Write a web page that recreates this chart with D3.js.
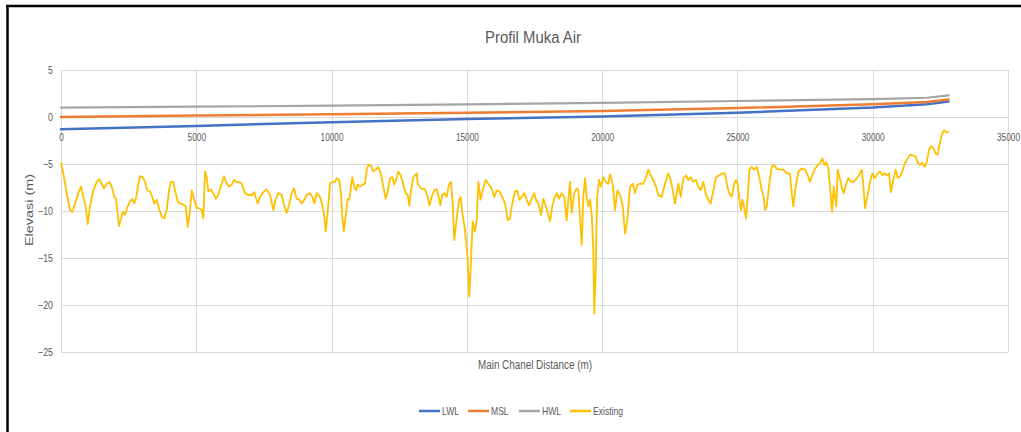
<!DOCTYPE html>
<html>
<head>
<meta charset="utf-8">
<script src="https://cdn.jsdelivr.net/npm/d3@7"></script>
<style>
  html, body { margin: 0; padding: 0; background: #fff; }
  svg { display: block; }
  text { font-family: "Liberation Sans", Arial, sans-serif; fill: #595959; }
</style>
</head>
<body>
<svg id="chart" width="1021" height="432"></svg>
<script>
// Water level references along the main channel (station in m, elevation in m)
const levelStations = [0, 5000, 10000, 15000, 20000, 25000, 30000, 32000, 32800];
const lwl = [-1.3, -0.95, -0.55, -0.2, 0.05, 0.45, 1.0, 1.35, 1.65];
const msl = [0.0, 0.15, 0.3, 0.45, 0.65, 0.95, 1.35, 1.6, 1.85];
const hwl = [1.0, 1.1, 1.2, 1.35, 1.5, 1.7, 1.9, 2.05, 2.3];

// Existing bed profile: [distance (m), elevation (m)]
const existing = [
  [0,-4.9],[85,-6.0],[211,-8.1],[333,-9.9],[418,-10.1],[517,-9.2],[639,-8.1],[739,-7.4],[824,-8.5],[913,-9.5],
  [987,-11.4],[1072,-9.5],[1194,-7.8],[1319,-6.9],[1416,-6.6],[1504,-7.1],[1589,-7.6],[1689,-7.1],[1785,-6.9],[1874,-7.4],
  [1970,-8.5],[2033,-8.7],[2070,-9.7],[2144,-11.6],[2218,-10.8],[2280,-10.1],[2365,-10.4],[2465,-9.5],[2550,-9.0],[2635,-8.7],
  [2709,-9.2],[2783,-8.5],[2857,-7.1],[2920,-6.3],[3020,-6.4],[3105,-6.9],[3190,-7.8],[3289,-7.9],[3374,-8.5],[3448,-9.2],
  [3537,-8.8],[3622,-9.7],[3722,-10.6],[3818,-10.8],[3907,-9.9],[3992,-7.8],[4066,-6.9],[4150,-6.9],[4239,-8.1],[4313,-9.0],
  [4398,-9.2],[4520,-9.3],[4609,-9.5],[4683,-11.7],[4757,-10.2],[4831,-7.8],[4927,-8.8],[5015,-9.7],[5100,-9.7],[5200,-9.9],
  [5259,-10.8],[5322,-5.8],[5385,-6.4],[5444,-7.9],[5533,-7.7],[5629,-8.1],[5729,-8.7],[5814,-8.3],[5939,-7.1],[6024,-6.3],
  [6124,-7.1],[6209,-7.4],[6309,-7.2],[6405,-6.7],[6494,-6.9],
  [6553,-6.9],[6679,-7.1],[6801,-8.1],[6923,-8.3],[7048,-8.3],[7144,-8.0],[7270,-9.2],[7355,-8.5],[7477,-8.0],[7603,-7.7],
  [7725,-8.3],[7847,-9.9],[7935,-8.8],[8031,-8.1],[8157,-8.3],[8242,-9.4],[8342,-10.2],[8427,-9.4],[8527,-8.1],[8612,-7.6],
  [8711,-8.7],[8807,-8.8],[8896,-9.2],[8992,-8.8],[9081,-8.3],[9203,-8.1],[9288,-8.5],[9362,-9.2],[9451,-8.1],[9573,-8.5],
  [9658,-9.4],[9732,-10.6],[9783,-12.2],[9857,-10.1],[9942,-7.1],[10027,-6.9],[10127,-6.9],[10190,-6.5],[10275,-6.7],[10349,-8.1],
  [10397,-10.6],[10449,-12.2],[10523,-10.6],[10596,-8.7],[10656,-8.8],[10718,-7.4],[10766,-6.4],[10840,-7.4],[10903,-7.8],[10966,-7.2],
  [11051,-7.4],[11151,-7.2],[11236,-7.1],[11298,-5.6],[11358,-5.1],[11458,-5.2],[11543,-5.8],[11631,-5.6],[11727,-5.3],[11816,-6.0],
  [11912,-7.4],[12001,-8.7],[12075,-7.9],[12160,-6.5],[12245,-6.4],[12319,-7.2],[12382,-6.7],[12466,-5.8],[12555,-6.2],[12651,-7.2],
  [12740,-8.1],[12814,-8.3],[12873,-9.4],[12936,-7.8],[13021,-6.4],[13147,-6.0],
  [13184,-7.1],[13306,-7.6],[13453,-7.7],[13553,-8.5],[13612,-9.4],[13701,-8.5],[13797,-7.8],[13886,-7.7],[13945,-8.3],[14019,-9.4],
  [14092,-8.3],[14166,-8.1],[14255,-8.5],[14340,-7.2],[14414,-6.9],[14477,-9.2],[14536,-13.1],[14625,-10.8],[14710,-8.8],[14773,-8.5],
  [14832,-10.2],[14932,-12.0],[15031,-15.2],[15091,-19.1],[15154,-15.2],[15216,-11.1],[15301,-12.2],[15364,-11.0],[15423,-6.9],[15512,-8.8],
  [15586,-7.8],[15697,-6.7],[15793,-7.1],[15919,-7.6],[16015,-8.5],[16104,-7.8],[16200,-7.9],[16311,-8.5],[16410,-9.2],[16510,-11.0],
  [16595,-10.8],[16680,-9.2],[16780,-7.9],[16865,-7.8],[16939,-8.8],[17027,-8.5],[17124,-8.1],[17212,-8.8],[17297,-9.4],[17397,-8.7],
  [17493,-8.1],[17556,-8.8],[17641,-9.2],[17741,-10.4],[17826,-8.7],[17926,-9.5],[17988,-10.2],[18073,-11.1],[18158,-9.5],[18232,-8.7],
  [18321,-8.1],[18406,-8.7],[18506,-8.1],[18602,-8.5],[18690,-11.0],[18750,-8.8],[18813,-6.9],[18875,-10.2],[18971,-8.1],[19060,-7.6],
  [19120,-7.8],[19182,-10.6],[19245,-13.6],[19305,-8.5],[19367,-6.5],[19430,-8.5],[19489,-9.5],[19552,-8.8],[19615,-10.4],[19674,-14.2],
  [19711,-20.9],[19763,-16.3],[19811,-8.8],[19885,-6.7],[19958,-7.4],[20043,-6.4],[20132,-6.9],[20228,-7.1],[20291,-6.1],
  [20390,-7.1],[20476,-9.9],[20561,-7.8],[20661,-8.3],[20761,-9.5],[20846,-12.4],[20931,-11.0],[21031,-7.4],[21131,-7.1],[21216,-8.1],
  [21300,-7.2],[21400,-7.1],[21522,-7.1],[21622,-6.4],[21707,-5.6],[21796,-6.2],[21892,-6.7],[21991,-7.4],[22076,-8.3],[22202,-8.5],
  [22324,-7.1],[22446,-6.0],[22535,-6.7],[22609,-7.8],[22694,-9.2],[22757,-8.1],[22815,-7.1],[22904,-8.5],[23000,-6.5],[23100,-6.2],
  [23185,-6.7],[23274,-6.4],[23370,-6.9],[23470,-6.7],[23555,-7.4],[23643,-7.8],[23739,-6.9],[23839,-8.3],[23924,-8.8],[24013,-9.2],
  [24109,-7.8],[24209,-6.4],[24330,-6.2],[24456,-6.0],[24541,-6.0],[24626,-7.4],[24700,-8.1],[24789,-8.5],[24874,-7.2],[24948,-6.7],
  [25011,-7.2],[25070,-8.8],[25133,-9.9],[25181,-8.8],[25244,-9.5],[25318,-10.8],[25381,-8.5],[25440,-5.6],[25529,-5.3],[25614,-5.6],
  [25714,-5.3],[25810,-6.4],[25899,-7.8],[25958,-8.3],[26021,-9.9],[26083,-9.5],[26179,-7.1],[26268,-5.3],[26353,-5.1],[26453,-5.5],
  [26575,-5.6],[26697,-5.6],[26823,-6.0],[26944,-6.0],
  [26980,-7.4],[27066,-9.5],[27155,-7.4],[27251,-5.8],[27376,-5.5],[27498,-5.6],[27598,-6.2],[27683,-6.9],[27768,-6.2],[27868,-5.5],
  [27968,-5.1],[28053,-4.9],[28138,-4.4],[28212,-5.1],[28286,-4.8],[28360,-5.5],[28434,-7.8],[28497,-10.1],[28560,-7.4],[28608,-8.5],
  [28655,-9.5],[28707,-5.6],[28781,-6.5],[28855,-7.4],[28929,-8.1],[29014,-7.2],[29099,-6.5],[29198,-6.9],[29298,-6.9],[29409,-6.5],
  [29494,-6.2],[29594,-5.6],[29653,-7.2],[29716,-9.7],[29800,-8.5],[29901,-6.9],[29986,-6.0],[30085,-6.5],[30185,-6.0],[30270,-5.8],
  [30355,-6.2],[30429,-6.0],[30518,-6.2],[30603,-6.0],[30677,-8.0],[30762,-6.7],[30851,-5.6],[30925,-6.5],[31010,-6.3],[31095,-5.8],
  [31194,-4.9],[31294,-4.4],[31379,-4.0],[31501,-4.1],[31590,-4.2],[31664,-4.9],[31749,-5.1],[31834,-4.9],[31933,-5.3],[31996,-4.8],
  [32081,-3.5],[32155,-3.1],[32240,-3.3],[32329,-3.9],[32403,-4.0],[32462,-3.0],[32551,-1.9],[32635,-1.4],[32709,-1.6],[32794,-1.6]
];

const xTicks = [0, 5000, 10000, 15000, 20000, 25000, 30000, 35000];
const yTicks = [5, 0, -5, -10, -15, -20, -25];

const series = [
  { name: "LWL", color: "#4472C4", width: 2.5, points: levelStations.map((s, i) => [s, lwl[i]]) },
  { name: "MSL", color: "#ED7D31", width: 2.5, points: levelStations.map((s, i) => [s, msl[i]]) },
  { name: "HWL", color: "#A5A5A5", width: 2.2, points: levelStations.map((s, i) => [s, hwl[i]]) },
  { name: "Existing", color: "#FFC000", width: 1.8, points: existing }
];

// narrow the glyphs of a text selection horizontally, like a condensed face
function condense(sel, factor) {
  sel.each(function () {
    const w = this.getComputedTextLength();
    d3.select(this).attr("textLength", w * factor).attr("lengthAdjust", "spacingAndGlyphs");
  });
}

const svg = d3.select("#chart");

// outer frame
svg.append("rect").attr("x", 0).attr("y", 0).attr("width", 1021).attr("height", 432).attr("fill", "#fff");
svg.append("line").attr("x1", 6).attr("x2", 1021).attr("y1", 6).attr("y2", 6)
  .attr("stroke", "#000").attr("stroke-width", 2.5);
svg.append("line").attr("x1", 7.5).attr("x2", 7.5).attr("y1", 5).attr("y2", 432)
  .attr("stroke", "#000").attr("stroke-width", 2.5);

const x = d3.scaleLinear().domain([0, 35000]).range([61, 1008]);
const y = d3.scaleLinear().domain([-25, 5]).range([352, 70]);

// gridlines
const grid = svg.append("g").attr("stroke", "#d9d9d9").attr("stroke-width", 1);
grid.selectAll("line.h").data(yTicks).join("line").attr("class", "h")
  .attr("x1", x(0)).attr("x2", x(35000))
  .attr("y1", d => Math.round(y(d)) + 0.5).attr("y2", d => Math.round(y(d)) + 0.5);
grid.selectAll("line.v").data(xTicks).join("line").attr("class", "v")
  .attr("y1", y(5)).attr("y2", y(-25))
  .attr("x1", d => Math.round(x(d)) + 0.5).attr("x2", d => Math.round(x(d)) + 0.5);

// axes (labels only)
const yAxis = svg.append("g").attr("transform", `translate(${x(0)},0)`)
  .call(d3.axisLeft(y).tickValues(yTicks).tickSize(0).tickPadding(8));
yAxis.select(".domain").remove();
yAxis.selectAll("text").attr("font-size", 11).attr("font-family", null).style("fill", "#595959")
  .call(condense, 0.8);

const xAxis = svg.append("g").attr("transform", `translate(0,${y(0)})`)
  .call(d3.axisBottom(x).tickValues(xTicks).tickFormat(d3.format("d")).tickSize(0).tickPadding(16));
xAxis.select(".domain").remove();
xAxis.selectAll("text").attr("font-size", 11).attr("font-family", null).style("fill", "#595959")
  .call(condense, 0.75);

// series lines
const line = d3.line().x(d => x(d[0])).y(d => y(d[1]));
svg.append("g").selectAll("path").data(series).join("path")
  .attr("d", d => line(d.points))
  .attr("fill", "none")
  .attr("stroke", d => d.color)
  .attr("stroke-width", d => d.width)
  .attr("stroke-linejoin", "round")
  .attr("stroke-linecap", "round");

// titles
svg.append("text").attr("x", 533).attr("y", 43).attr("text-anchor", "middle")
  .attr("font-size", 16).text("Profil Muka Air")
  .attr("textLength", 96).attr("lengthAdjust", "spacingAndGlyphs");
svg.append("text").attr("x", 535).attr("y", 369).attr("text-anchor", "middle")
  .attr("font-size", 12).text("Main Chanel Distance (m)")
  .attr("textLength", 114).attr("lengthAdjust", "spacingAndGlyphs");
svg.append("text").attr("transform", "translate(33,210) rotate(-90)")
  .attr("text-anchor", "middle").attr("font-size", 11)
  .attr("textLength", 72).attr("lengthAdjust", "spacingAndGlyphs")
  .text("Elevasi (m)");

// legend
const legendX = [419, 468, 519, 570];
const legend = svg.append("g").selectAll("g").data(series).join("g")
  .attr("transform", (d, i) => `translate(${legendX[i]},411)`);
legend.append("line").attr("x1", 0).attr("x2", 21).attr("y1", 0).attr("y2", 0)
  .attr("stroke", d => d.color).attr("stroke-width", 2.5);
legend.append("text").attr("x", 23).attr("y", 4).attr("font-size", 11).text(d => d.name)
  .call(condense, 0.78);
</script>
</body>
</html>
